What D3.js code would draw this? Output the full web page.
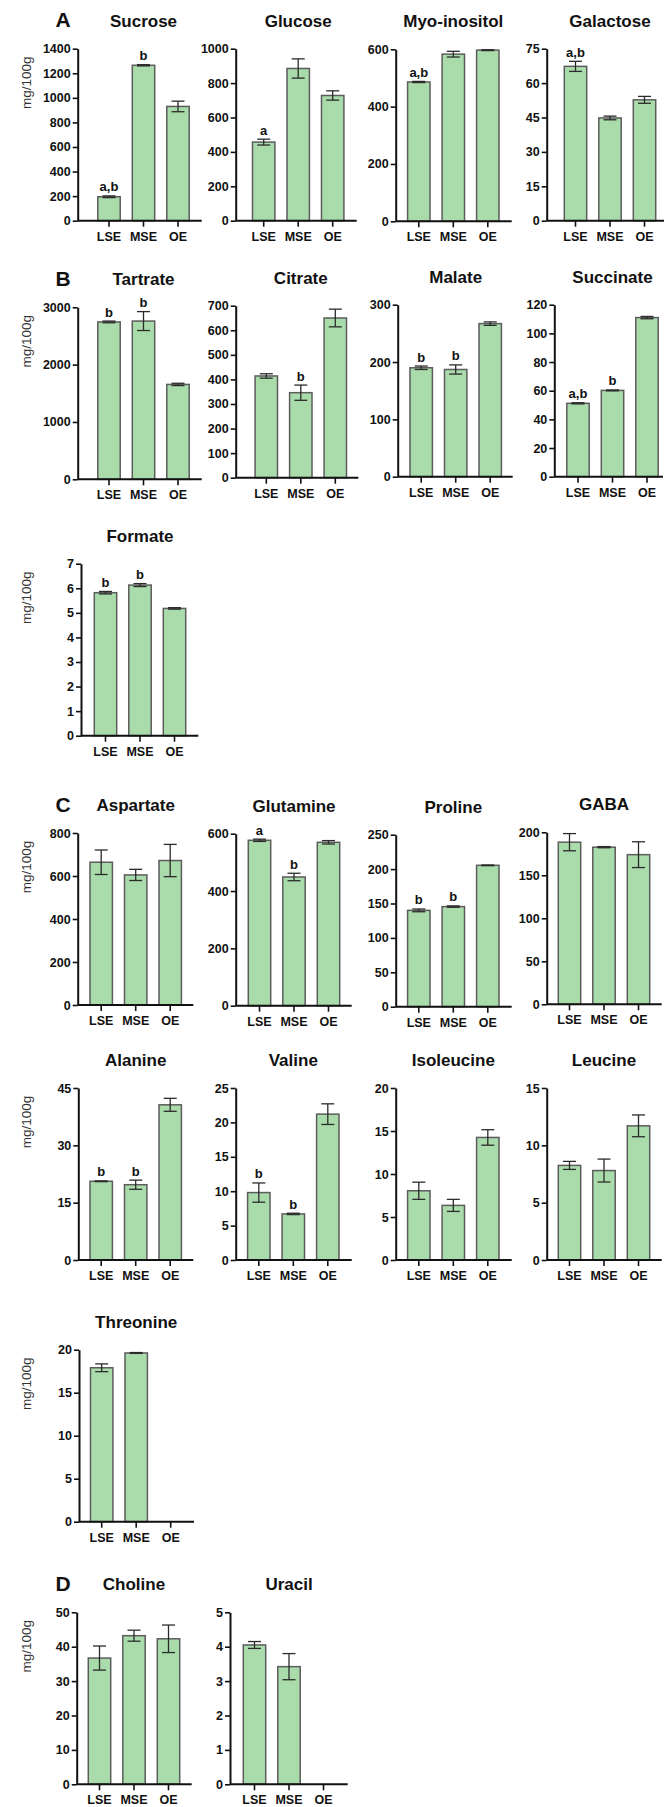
<!DOCTYPE html>
<html>
<head>
<meta charset="utf-8">
<script src="https://cdnjs.cloudflare.com/ajax/libs/d3/7.8.5/d3.min.js"></script>
<style>
body { margin: 0; background: #fff; }
text { font-family: Arial, "Liberation Sans", sans-serif; }
</style>
</head>
<body>
<div id="fig"></div>
<script>
var groups = ["LSE", "MSE", "OE"];

var names = ["Sucrose", "Glucose", "Myo-inositol", "Galactose",
  "Tartrate", "Citrate", "Malate", "Succinate", "Formate",
  "Aspartate", "Glutamine", "Proline", "GABA",
  "Alanine", "Valine", "Isoleucine", "Leucine", "Threonine",
  "Choline", "Uracil"];

var means = [
  [195, 1265, 930], [457, 885, 728], [486, 583, 597], [67.3, 44.8, 52.7],
  [2745, 2760, 1655], [414, 346, 650], [190, 187, 267], [51.2, 60.2, 111], [5.82, 6.13, 5.18],
  [664, 605, 672], [577, 449, 570], [140, 145.5, 205.5], [188.5, 182.7, 174],
  [20.6, 19.7, 40.6], [9.8, 6.7, 21.2], [8.05, 6.35, 14.25], [8.25, 7.8, 11.7], [17.9, 19.62, null],
  [36.7, 43.2, 42.3], [4.05, 3.42, null]
];

var errs = [
  [7, 5, 43], [17, 56, 27], [2, 10, 1.5], [2.2, 0.8, 1.5],
  [15, 165, 20], [9, 31, 36], [3, 8, 3], [0.4, 0.3, 0.8], [0.05, 0.06, 0.03],
  [57, 26, 75], [4, 13, 6], [2, 1, 0.5], [10, 0.7, 15],
  [0.1, 1.2, 1.7], [1.4, 0.1, 1.5], [1.0, 0.7, 0.9], [0.35, 1.0, 0.95], [0.45, 0.05, null],
  [3.5, 1.6, 4.0], [0.1, 0.38, null]
];

var sigs = [
  ["a,b", "b", ""], ["a", "", ""], ["a,b", "", ""], ["a,b", "", ""],
  ["b", "b", ""], ["", "b", ""], ["b", "b", ""], ["a,b", "b", ""], ["b", "b", ""],
  ["", "", ""], ["a", "b", ""], ["b", "b", ""], ["", "", ""],
  ["b", "b", ""], ["b", "b", ""], ["", "", ""], ["", "", ""], ["", "", ""],
  ["", "", ""], ["", "", ""]
];

var yTicks = [
  [0, 200, 400, 600, 800, 1000, 1200, 1400], [0, 200, 400, 600, 800, 1000], [0, 200, 400, 600], [0, 15, 30, 45, 60, 75],
  [0, 1000, 2000, 3000], [0, 100, 200, 300, 400, 500, 600, 700], [0, 100, 200, 300], [0, 20, 40, 60, 80, 100, 120], [0, 1, 2, 3, 4, 5, 6, 7],
  [0, 200, 400, 600, 800], [0, 200, 400, 600], [0, 50, 100, 150, 200, 250], [0, 50, 100, 150, 200],
  [0, 15, 30, 45], [0, 5, 10, 15, 20, 25], [0, 5, 10, 15, 20], [0, 5, 10, 15], [0, 5, 10, 15, 20],
  [0, 10, 20, 30, 40, 50], [0, 1, 2, 3, 4, 5]
];

var panelLetters = {0: "A", 4: "B", 9: "C", 18: "D"};
var unitLabel = "mg/100g";
var unitPanels = [0, 4, 8, 9, 13, 17, 18];

// layout per panel: y-axis x, zero line y, first bar centre offset, x-axis length
var layout = [
  [77.7, 220.7, 31.3, 124], [235.7, 220.7, 28, 121], [395.7, 221.3, 23.1, 116], [546.7, 220.7, 28.8, 117.3],
  [77.7, 479.3, 31.3, 124], [235.7, 477.7, 30.6, 122.6], [397.7, 476.7, 23.5, 115], [554.3, 476.7, 23.7, 108.7], [81, 735.7, 24.5, 117.3],
  [77.7, 1005, 23.5, 115.6], [235.7, 1005.7, 23.8, 116], [395.7, 1006.7, 23.1, 116], [546.7, 1004.3, 22.8, 115],
  [78.3, 1260, 22.9, 115], [235.7, 1260, 23.1, 116], [395.7, 1260, 23.1, 116], [546.7, 1260, 22.8, 115], [79, 1521.7, 22.7, 115],
  [76.7, 1784.3, 22.8, 115], [230, 1784.3, 24.5, 117.7]
];

var W = 669, H = 1807, plotH = 172, step = 34.5;
var barFill = "#a9dcaa", barStroke = "#5c5c5c";

var svg = d3.select("#fig").append("svg")
  .attr("width", W).attr("height", H);
svg.append("rect").attr("width", W).attr("height", H).attr("fill", "#fff");

names.forEach(function(name, i) {
  var L = layout[i];
  var g = svg.append("g").attr("transform", "translate(" + L[0] + "," + (L[1] - plotH) + ")");
  var ticks = yTicks[i];

  var y = d3.scaleLinear().domain([0, d3.max(ticks)]).range([plotH, 0]);
  var x0 = L[2] - step / 2;
  var x = d3.scaleBand().domain(groups).range([x0, x0 + 3 * step])
    .paddingInner(0.35).paddingOuter(0.175);

  var rows = groups.map(function(k, j) {
    return {k: k, v: means[i][j], e: errs[i][j], s: sigs[i][j]};
  });
  var present = rows.filter(function(d) { return d.v != null; });

  g.selectAll("rect.bar").data(present).enter().append("rect")
    .attr("class", "bar")
    .attr("x", function(d) { return x(d.k); })
    .attr("y", function(d) { return y(d.v); })
    .attr("width", x.bandwidth())
    .attr("height", function(d) { return plotH - y(d.v); })
    .attr("fill", barFill)
    .attr("stroke", barStroke)
    .attr("stroke-width", 1.5);

  // error bars
  var cap = 6.5;
  var eg = g.selectAll("g.err").data(present).enter().append("g")
    .attr("class", "err")
    .attr("stroke", "#2b2b2b").attr("stroke-width", 1.3);
  eg.append("line")
    .attr("x1", function(d) { return x(d.k) + x.bandwidth() / 2; })
    .attr("x2", function(d) { return x(d.k) + x.bandwidth() / 2; })
    .attr("y1", function(d) { return y(d.v - d.e); })
    .attr("y2", function(d) { return y(d.v + d.e); });
  eg.append("line")
    .attr("x1", function(d) { return x(d.k) + x.bandwidth() / 2 - cap; })
    .attr("x2", function(d) { return x(d.k) + x.bandwidth() / 2 + cap; })
    .attr("y1", function(d) { return y(d.v + d.e); })
    .attr("y2", function(d) { return y(d.v + d.e); });
  eg.append("line")
    .attr("x1", function(d) { return x(d.k) + x.bandwidth() / 2 - cap; })
    .attr("x2", function(d) { return x(d.k) + x.bandwidth() / 2 + cap; })
    .attr("y1", function(d) { return y(d.v - d.e); })
    .attr("y2", function(d) { return y(d.v - d.e); });

  // significance letters
  g.selectAll("text.sig").data(present.filter(function(d) { return d.s; })).enter().append("text")
    .attr("class", "sig")
    .attr("x", function(d) { return x(d.k) + x.bandwidth() / 2; })
    .attr("y", function(d) { return y(d.v + d.e) - 4.5; })
    .attr("text-anchor", "middle")
    .attr("font-size", 13).attr("font-weight", "bold").attr("fill", "#111")
    .text(function(d) { return d.s; });

  // y axis
  var ya = g.append("g")
    .call(d3.axisLeft(y).tickValues(ticks).tickFormat(function(d) { return String(d); })
      .tickSize(5).tickPadding(2).tickSizeOuter(0));
  ya.select(".domain").attr("stroke", "#111").attr("stroke-width", 2);
  ya.selectAll(".tick line").attr("stroke", "#111").attr("stroke-width", 1.6);
  ya.selectAll(".tick text").attr("font-size", 12.5).attr("font-weight", "bold")
    .attr("fill", "#111").attr("font-family", null);

  // x axis
  var xa = g.append("g").attr("transform", "translate(0," + plotH + ")")
    .call(d3.axisBottom(x).tickSize(6).tickPadding(5).tickSizeOuter(0));
  xa.select(".domain").remove();
  xa.append("line").attr("x1", 0).attr("x2", L[3]).attr("y1", 0).attr("y2", 0)
    .attr("stroke", "#111").attr("stroke-width", 2);
  xa.selectAll(".tick line").attr("stroke", "#111").attr("stroke-width", 1.6);
  xa.selectAll(".tick text").attr("font-size", 12.5).attr("font-weight", "bold")
    .attr("fill", "#111").attr("font-family", null);

  // title
  g.append("text")
    .attr("x", x("MSE") + x.bandwidth() / 2)
    .attr("y", plotH - 200 + 6)
    .attr("text-anchor", "middle")
    .attr("font-size", 17).attr("font-weight", "bold").attr("fill", "#111")
    .text(name);

  if (panelLetters[i]) {
    svg.append("text")
      .attr("x", 63).attr("y", L[1] - 201 + 7.5)
      .attr("text-anchor", "middle")
      .attr("font-size", 21).attr("font-weight", "bold").attr("fill", "#111")
      .text(panelLetters[i]);
  }

  if (unitPanels.indexOf(i) >= 0) {
    svg.append("text")
      .attr("transform", "translate(26," + (L[1] - 138) + ") rotate(-90)")
      .attr("text-anchor", "middle")
      .attr("dominant-baseline", "central")
      .attr("font-size", 13.5).attr("fill", "#333")
      .text(unitLabel);
  }
});
</script>
</body>
</html>
